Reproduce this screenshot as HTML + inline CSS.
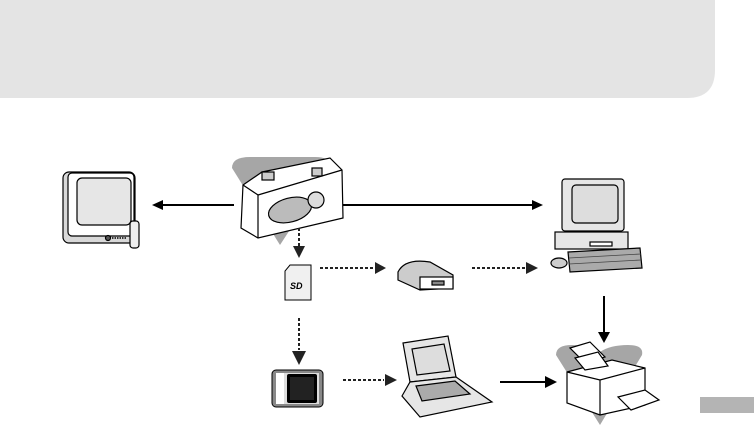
<!DOCTYPE html>
<html><head><meta charset="utf-8"><style>
html,body{margin:0;padding:0;background:#fff;width:754px;height:429px;overflow:hidden}
</style></head><body>
<svg width="754" height="429" viewBox="0 0 754 429" xmlns="http://www.w3.org/2000/svg">
<path d="M0 0 H715 V70 Q715 98 687 98 H0 Z" fill="#e4e4e4"/>
<rect x="700" y="397" width="54" height="16" fill="#b4b4b4"/>

<!-- TV -->
<g stroke="#000" stroke-width="1.2">
<rect x="63" y="172" width="72" height="71" rx="6" fill="#d8d8d8"/>
<rect x="68" y="173" width="66" height="63" rx="4" fill="#fff"/>
<rect x="77" y="178" width="54" height="47" rx="5" fill="#e6e6e6"/>
<circle cx="108" cy="238" r="2.5" fill="#555"/>
<rect x="130" y="221" width="9" height="27" rx="3" fill="#eee"/>
</g>
<line x1="112" y1="238" x2="126" y2="238" stroke="#000" stroke-width="1.5" stroke-dasharray="1.5,1"/>

<!-- Camera -->
<path d="M232 168 Q232 157 250 157 H315 Q332 157 330 168 L280 245 Z" fill="#a6a6a6"/>
<g stroke="#000" stroke-width="1.2">
<path d="M243 185 L262 172 L330 158 L342 170 L343 218 L258 238 L241 228 Z" fill="#fff"/>
<path d="M243 185 L258 195 L258 238" fill="none"/>
<path d="M258 195 L342 170" fill="none"/>
<ellipse cx="290" cy="210" rx="22" ry="12" fill="#bbb" transform="rotate(-15 290 210)"/>
<circle cx="316" cy="200" r="8" fill="#ddd"/>
<rect x="262" y="172" width="12" height="8" fill="#ccc"/>
<rect x="312" y="168" width="10" height="8" fill="#ccc"/>
</g>

<!-- Computer -->
<g stroke="#000" stroke-width="1.2">
<rect x="562" y="179" width="62" height="52" rx="3" fill="#e6e6e6"/>
<rect x="572" y="185" width="46" height="38" rx="4" fill="#ddd"/>
<rect x="555" y="232" width="73" height="17" fill="#e6e6e6"/>
<rect x="590" y="242" width="22" height="4" fill="#fff"/>
<path d="M568 252 L640 248 L642 268 L570 272 Z" fill="#aaa"/>
<path d="M569 258 L641 254 M569 264 L641 260" stroke="#444" stroke-width="0.8"/>
<ellipse cx="559" cy="263" rx="8" ry="5" fill="#ccc"/>
</g>

<!-- SD card -->
<path d="M290 265 H311 V300 H285 V271 Z" fill="#f0f0f0" stroke="#000" stroke-width="1"/>
<text x="290" y="289" font-family="Liberation Sans, sans-serif" font-size="9" font-style="italic" font-weight="bold">SD</text>

<!-- Reader -->
<g stroke="#000" stroke-width="1.2">
<path d="M398 272 Q405 258 430 262 L453 275 V288 L420 290 L398 280 Z" fill="#ccc"/>
<rect x="420" y="277" width="33" height="12" fill="#fff"/>
<rect x="432" y="281" width="12" height="4" fill="#888"/>
</g>

<!-- Card adapter -->
<rect x="272" y="370" width="51" height="37" rx="4" fill="#888" stroke="#000"/>
<rect x="276" y="373" width="43" height="31" fill="#ddd"/>
<rect x="276" y="373" width="8" height="31" fill="#fff"/>
<rect x="287" y="374" width="30" height="29" rx="2" fill="#000"/>
<rect x="290" y="377" width="24" height="23" fill="#222"/>

<!-- Laptop -->
<g stroke="#000" stroke-width="1.2">
<path d="M403 343 L448 336 L456 377 L410 382 Z" fill="#e6e6e6"/>
<path d="M412 349 L444 344 L450 371 L417 375 Z" fill="#ddd"/>
<path d="M410 382 L456 377 L492 402 L420 417 L402 396 Z" fill="#e6e6e6"/>
<path d="M416 386 L455 381 L470 394 L422 401 Z" fill="#aaa"/>
</g>

<!-- Printer -->
<path d="M556 355 Q556 345 572 345 Q590 345 600 352 Q610 345 628 345 Q644 345 642 355 L600 425 Z" fill="#a6a6a6"/>
<g stroke="#000" stroke-width="1.2">
<path d="M567 372 L612 360 L645 368 L645 405 L600 415 L567 403 Z" fill="#fff"/>
<path d="M567 372 L600 380 L645 368 M600 380 V415" fill="none"/>
<path d="M570 348 L590 342 L605 357 L585 363 Z" fill="#fff"/>
<path d="M575 358 L598 352 L608 366 L585 370 Z" fill="#fff"/>
<path d="M618 397 L645 390 L659 400 L631 410 Z" fill="#fff"/>
</g>

<!-- Solid arrows -->
<g stroke="#000" stroke-width="2" fill="none">
<line x1="234" y1="205" x2="160" y2="205"/>
<line x1="343" y1="205" x2="534" y2="205"/>
<line x1="604" y1="296" x2="604" y2="333"/>
<line x1="500" y1="382" x2="546" y2="382"/>
</g>
<g fill="#000">
<path d="M152 205 L163 200 L163 210 Z"/>
<path d="M543 205 L532 200 L532 210 Z"/>
<path d="M604 343 L598 332 L610 332 Z"/>
<path d="M557 382 L545 376 L545 388 Z"/>
</g>

<!-- Dotted arrows -->
<g stroke="#222" stroke-width="2" stroke-dasharray="3,2" fill="none">
<line x1="299" y1="228" x2="299" y2="247"/>
<line x1="320" y1="268" x2="375" y2="268"/>
<line x1="472" y1="268" x2="526" y2="268"/>
<line x1="299" y1="318" x2="299" y2="350"/>
<line x1="343" y1="380" x2="384" y2="380"/>
</g>
<g fill="#222">
<path d="M299 258 L293 246 L305 246 Z"/>
<path d="M386 268 L375 262 L375 274 Z"/>
<path d="M538 268 L526 262 L526 274 Z"/>
<path d="M299 365 L292 351 L306 351 Z"/>
<path d="M397 380 L385 374 L385 386 Z"/>
</g>
</svg>
</body></html>
